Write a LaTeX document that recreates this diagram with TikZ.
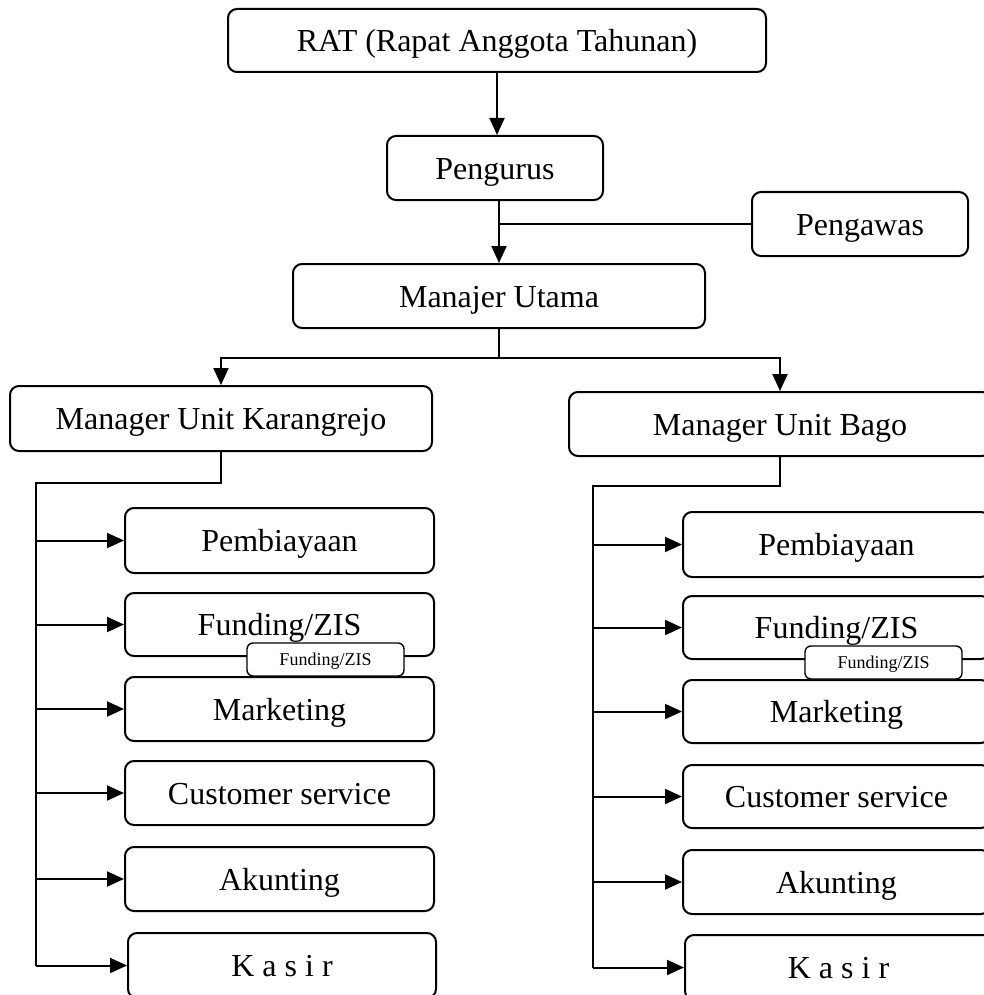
\documentclass[tikz,border=0pt]{standalone}
\usepackage{fontspec}
\setmainfont{Liberation Serif}
\usetikzlibrary{arrows.meta,calc}
\begin{document}
\begin{tikzpicture}[x=1pt,y=-1pt,
  box/.style={draw,line width=2pt,rounded corners=9pt,inner sep=0pt,align=center,fill=white,font=\fontsize{32}{38}\selectfont,text height=22pt,text depth=0pt},
  smallbox/.style={box,line width=1.4pt,rounded corners=6pt,font=\fontsize{18}{22}\selectfont,text height=11pt,text depth=0pt},
  conn/.style={line width=2pt},
  arr/.style={conn,-{Triangle[length=17pt,width=15pt]}}]
\useasboundingbox (0,0) rectangle (984,995);
\clip (0,0) rectangle (984,995);

% top levels
\node[box,minimum width=538pt,minimum height=63pt] (rat) at (497,40.5) {RAT (Rapat Anggota Tahunan)};
\node[box,minimum width=216pt,minimum height=64pt] (pengurus) at (495,168) {Pengurus};
\node[box,minimum width=216pt,minimum height=64pt] (pengawas) at (860,224) {Pengawas};
\node[box,minimum width=412pt,minimum height=64pt] (manajer) at (499,296) {Manajer Utama};
\node[box,minimum width=422pt,minimum height=65pt] (kr) at (221,418.5) {Manager Unit Karangrejo};
\node[box,minimum width=422pt,minimum height=64pt] (bg) at (780,424) {Manager Unit Bago};

% left column
\node[box,minimum width=309pt,minimum height=65pt] (kp) at (279.5,540.5) {Pembiayaan};
\node[box,minimum width=309pt,minimum height=63pt] (kf) at (279.5,624.5) {Funding/ZIS};
\node[box,minimum width=309pt,minimum height=64pt] (km) at (279.5,709) {Marketing};
\node[box,minimum width=309pt,minimum height=64pt] (kc) at (279.5,793) {Customer service};
\node[box,minimum width=309pt,minimum height=64pt] (ka) at (279.5,879) {Akunting};
\node[box,minimum width=308pt,minimum height=65pt] (kk) at (282,965.5) {K a s i r};
\node[smallbox,minimum width=157pt,minimum height=33pt] (ks) at (325.5,659.5) {Funding/ZIS};

% right column
\node[box,minimum width=307pt,minimum height=65pt] (bp) at (836.5,544.5) {Pembiayaan};
\node[box,minimum width=307pt,minimum height=63pt] (bf) at (836.5,627.5) {Funding/ZIS};
\node[box,minimum width=307pt,minimum height=63pt] (bm) at (836.5,711.5) {Marketing};
\node[box,minimum width=307pt,minimum height=63pt] (bc) at (836.5,796.5) {Customer service};
\node[box,minimum width=307pt,minimum height=64pt] (ba) at (836.5,882) {Akunting};
\node[box,minimum width=307pt,minimum height=65pt] (bk) at (838.5,967.5) {K a s i r};
\node[smallbox,minimum width=157pt,minimum height=33pt] (bs) at (883.5,662.5) {Funding/ZIS};

% connectors top
\draw[arr] (rat.south) -- (rat.south |- pengurus.north);
\draw[arr] (manajer.north |- pengurus.south) -- (manajer.north);
\draw[conn] (pengawas.west) -- (manajer.north |- pengawas.west);
\coordinate (hub) at (499,358);
\draw[conn] (manajer.south) -- (hub);
\draw[arr] (hub) -| (kr.north);
\draw[arr] (hub) -| (bg.north);

% left trunk
\coordinate (kt) at (36,483);
\draw[conn] (kr.south) |- (kt) -- (kt |- kk.west);
\foreach \n in {kp,kf,km,kc,ka,kk}{
  \draw[arr] (kt |- \n.west) -- (\n.west);
}

% right trunk
\coordinate (bt) at (593,486);
\draw[conn] (bg.south) |- (bt) -- (bt |- bk.west);
\foreach \n in {bp,bf,bm,bc,ba,bk}{
  \draw[arr] (bt |- \n.west) -- (\n.west);
}
\end{tikzpicture}
\end{document}
